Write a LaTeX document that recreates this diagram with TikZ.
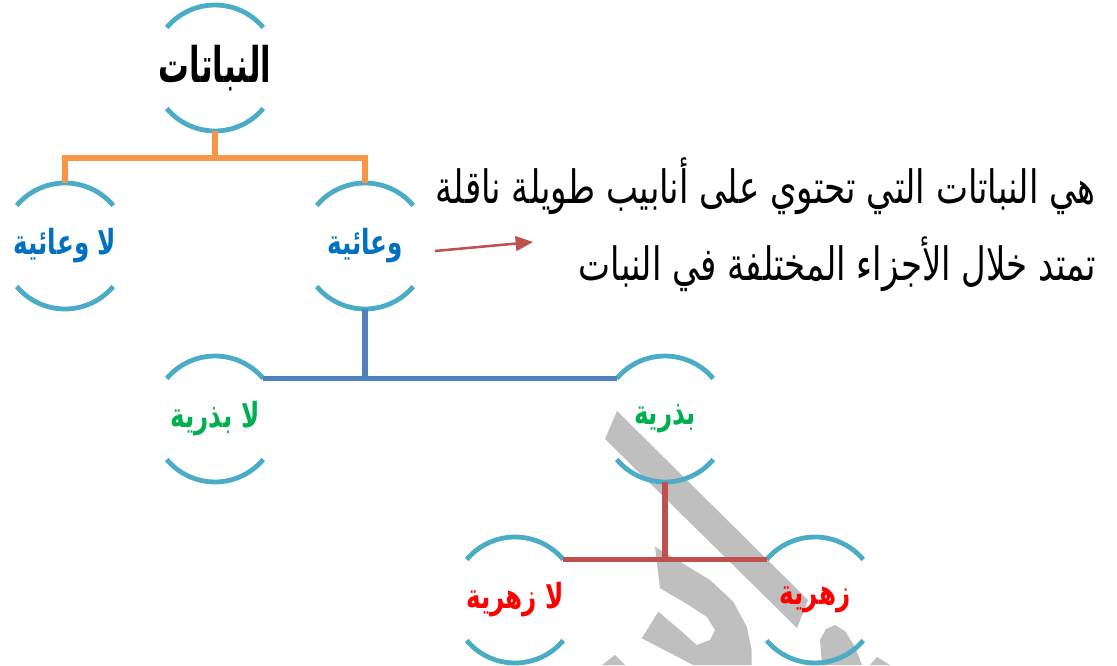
\documentclass[tikz,border=0pt]{standalone}
\usepackage{fontspec}
\usepackage{graphicx}
\newfontfamily\arabicfont[Script=Arabic]{DejaVu Sans}
\TeXXeTstate=1
\usetikzlibrary{arrows.meta}
\definecolor{ring}{HTML}{4BACC6}
\definecolor{orangeline}{HTML}{F79646}
\definecolor{blueline}{HTML}{4F81BD}
\definecolor{redline}{HTML}{C0504D}
\definecolor{bluetext}{HTML}{0070C0}
\definecolor{greentext}{HTML}{00B050}
\definecolor{redtext}{HTML}{FF0000}
\definecolor{wm}{HTML}{BFBFBF}
\newcommand{\tallbox}[2]{\scalebox{1}[#1]{#2}}
\tikzset{
  ringnode/.style={circle, minimum size=94.5pt, inner sep=0pt, outer sep=0pt,
    font=\arabicfont\bfseries\fontsize{18.5}{21}\selectfont},
  titlenode/.style={ringnode, font=\arabicfont\bfseries\fontsize{23}{26}\selectfont, text=black},
  ringarc/.style={draw=ring, line width=3.6pt},
  conn/.style={line width=3.8pt},
  desctext/.style={font=\arabicfont\fontsize{25.5}{58}\selectfont, align=right, inner sep=0pt},
  watermark/.style={fill=wm, draw=none}
}
\begin{document}
\begin{tikzpicture}[x=0.75pt, y=0.75pt]
\useasboundingbox (0,0) rectangle (1117,665);
% watermark shapes
\fill[watermark] (617,254) -- (808,65) -- (797,37) -- (605,226) -- cycle;
\fill[watermark] (655,118.3) -- (680,103.3) -- (710,85) -- (733.3,63.3) -- (746.7,38.3)
  -- (751.7,15) -- (751.7,0) -- (693.3,0) -- (641.7,26.7) -- (658.3,53.3) -- (680,35)
  -- (696.7,20) -- (710,25) -- (715,35) -- (706.7,48.3) -- (683.3,63.3) -- (660,76.7) -- cycle;
\fill[watermark] (615,10) -- (625,0) -- (602,0) -- cycle;
\fill[watermark] (820,25) -- (826,36) -- (835,40) -- (845,34) -- (855,18) -- (862,0) -- (822,0) -- cycle;
\fill[watermark] (877,8) -- (870,0) -- (890,0) -- cycle;
% nodes
\node[titlenode] (root) at (215,597) {\tallbox{1.6}{\beginR النباتات\endR}};
\node[ringnode, text=bluetext] (lw) at (65,419) {\tallbox{1.4}{\beginR لا وعائية\endR}};
\node[ringnode, text=bluetext] (w) at (365,419) {\tallbox{1.4}{\beginR وعائية\endR}};
\node[ringnode, text=greentext] (lb) at (215,246) {\tallbox{1.4}{\beginR لا بذرية\endR}};
\node[ringnode, text=greentext] (b) at (665,246) {\tallbox{1.4}{\beginR بذرية\endR}};
\node[ringnode, text=redtext] (lz) at (515,65) {\tallbox{1.4}{\beginR لا زهرية\endR}};
\node[ringnode, text=redtext] (z) at (815,65) {\tallbox{1.4}{\beginR زهرية\endR}};
\node[desctext, anchor=east] (desc) at (1096,440)
  {\tallbox{1.35}{\beginR هي النباتات التي تحتوي على أنابيب طويلة ناقلة\endR}\\
   \tallbox{1.35}{\beginR تمتد خلال الأجزاء المختلفة في النبات\endR}};
% ring arcs
\foreach \n in {root,lw,w,lb,b,lz,z}{
  \draw[ringarc] (\n.center) ++(140:47.25pt) arc[start angle=140, end angle=40, radius=47.25pt];
  \draw[ringarc] (\n.center) ++(220:47.25pt) arc[start angle=220, end angle=320, radius=47.25pt];
}
% connectors
\coordinate (oj) at (215,507);
\draw[conn, draw=orangeline] (root.south) -- (oj);
\draw[conn, draw=orangeline] (lw.north) |- (oj) -| (w.north);
\draw[conn, draw=blueline] (lb.40) -- (b.140);
\draw[conn, draw=blueline] (w.south) -- (w.south |- lb.40);
\draw[conn, draw=redline] (lz.40) -- (z.140);
\draw[conn, draw=redline] (b.south) -- (b.south |- lz.40);
% arrow
\coordinate (a1) at (435,414);
\coordinate (a2) at (533,423);
\draw[line width=1.9pt, draw=redline, -{Triangle[length=13pt,width=11pt]}] (a1) -- (a2);
\end{tikzpicture}
\end{document}
